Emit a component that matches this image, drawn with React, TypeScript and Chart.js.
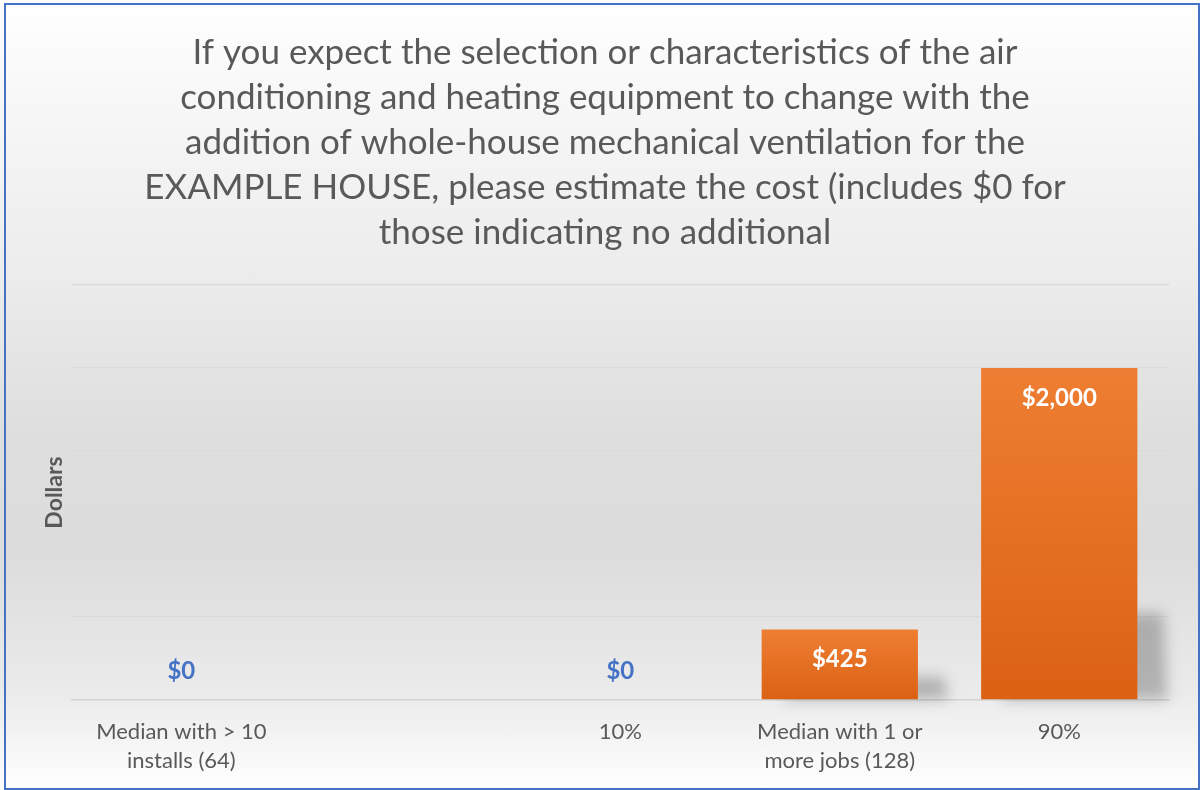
import React, { useEffect, useRef } from "react";
import { Chart, registerables } from "chart.js";

Chart.register(...registerables);

const titleLines = [
  "If you expect the selection or characteristics of the air",
  "conditioning and heating equipment to change with the",
  "addition of whole-house mechanical ventilation for the",
  "EXAMPLE HOUSE, please estimate the cost (includes $0 for",
  "those indicating no additional",
];
const categories: (string | string[])[] = [
  ["Median with > 10", "installs (64)"],
  "",
  "10%",
  ["Median with 1 or", "more jobs (128)"],
  "90%",
];
const values: (number | null)[] = [0, null, 0, 425, 2000];
const yMax = 2500;
const yStep = 500;
const yTitle = "Dollars";

const FONT = "Lato, 'Open Sans', sans-serif";

const fmt = (v: number) => "$" + v.toLocaleString("en-US");

const shadowPlugin = {
  id: "barShadow",
  beforeDatasetsDraw(chart: any) {
    const meta = chart.getDatasetMeta(0);
    const ctx = chart.ctx;
    meta.data.forEach((el: any, i: number) => {
      const v = values[i];
      if (!v) return;
      const h = el.base - el.y;
      const sh = Math.min(h * 0.32, 86);
      const left = el.x - el.width / 2;
      const right = el.x + el.width / 2;
      ctx.save();
      ctx.filter = "blur(7px)";
      ctx.fillStyle = "rgba(0,0,0,0.24)";
      ctx.beginPath();
      ctx.moveTo(left + 20, el.base);
      ctx.lineTo(left + 40, el.base - sh);
      ctx.lineTo(right + 26, el.base - sh);
      ctx.lineTo(right + 30, el.base);
      ctx.closePath();
      ctx.fill();
      ctx.restore();
    });
  },
};

const labelPlugin = {
  id: "barLabels",
  afterDatasetsDraw(chart: any) {
    const meta = chart.getDatasetMeta(0);
    const ctx = chart.ctx;
    ctx.save();
    ctx.font = `bold 24px ${FONT}`;
    ctx.textAlign = "center";
    ctx.textBaseline = "middle";
    meta.data.forEach((el: any, i: number) => {
      const v = values[i];
      if (v === null || v === undefined) return;
      if (v > 0) {
        ctx.fillStyle = "#ffffff";
        ctx.fillText(fmt(v), el.x, el.y + 30);
      } else {
        ctx.fillStyle = "#4472C4";
        ctx.fillText(fmt(v), el.x, el.base - 29);
      }
    });
    ctx.restore();
  },
};

export default function App() {
  const ref = useRef<HTMLCanvasElement>(null);
  useEffect(() => {
    if (!ref.current) return;
    const chart = new Chart(ref.current, {
      type: "bar",
      data: {
        labels: categories,
        datasets: [
          {
            data: values,
            backgroundColor: (c: any) => {
              const ch = c.chart;
              const v = c.raw;
              const ys = ch.scales && ch.scales.y;
              if (!ys || v === null || v === undefined) return "#E8722A";
              const top = ys.getPixelForValue(v);
              const bot = ys.getPixelForValue(0);
              if (!isFinite(top) || !isFinite(bot) || top === bot) return "#E8722A";
              const g = ch.ctx.createLinearGradient(0, top, 0, bot);
              g.addColorStop(0, "#EE7E33");
              g.addColorStop(1, "#DB6113");
              return g;
            },
            borderWidth: 0,
            categoryPercentage: 0.8,
            barPercentage: 0.89,
          },
        ],
      },
      options: {
        animation: false,
        responsive: false,
        maintainAspectRatio: false,
        layout: { padding: { left: 41, right: 31, top: 30, bottom: 15 } },
        plugins: {
          legend: { display: false },
          tooltip: { enabled: false },
          title: {
            display: true,
            text: titleLines,
            color: "#595959",
            font: { family: FONT, size: 35, weight: "normal", lineHeight: 45 / 35 },
            padding: { top: 0, bottom: 30 },
          },
        },
        scales: {
          x: {
            grid: { display: false, drawTicks: false },
            border: { display: true, color: "#D3D3D3", width: 1.5 },
            ticks: {
              color: "#595959",
              font: { family: FONT, size: 22, lineHeight: 29 / 22 },
              padding: 17,
              maxRotation: 0,
              autoSkip: false,
            },
            afterFit: (s: any) => {
              s.height = 75;
            },
          },
          y: {
            min: 0,
            max: yMax,
            ticks: { display: false, stepSize: yStep },
            grid: { color: "#D9D9D9", lineWidth: 1.3, drawTicks: false },
            border: { display: false },
            title: {
              display: true,
              text: yTitle,
              color: "#595959",
              font: { family: FONT, size: 23, weight: "bold", lineHeight: 1.2 },
              padding: { top: 0, bottom: 3 },
            },
          },
        },
      },
      plugins: [shadowPlugin, labelPlugin],
    } as any);
    return () => chart.destroy();
  }, []);

  return (
    <div
      style={{
        position: "fixed",
        left: 0,
        top: 0,
        width: 1200,
        height: 790,
        background:
          "linear-gradient(to bottom, #ffffff 0%, #f6f6f6 15%, #ececec 35%, #dedede 55%, #dcdcdc 70%, #ebebeb 88%, #ffffff 100%)",
      }}
    >
      <canvas ref={ref} width={1200} height={790} style={{ position: "absolute", left: 0, top: 0 }} />
      <div
        style={{
          position: "absolute",
          left: 4,
          top: 3,
          width: 1192,
          height: 783,
          border: "2px solid #4472C4",
          pointerEvents: "none",
        }}
      />
    </div>
  );
}
